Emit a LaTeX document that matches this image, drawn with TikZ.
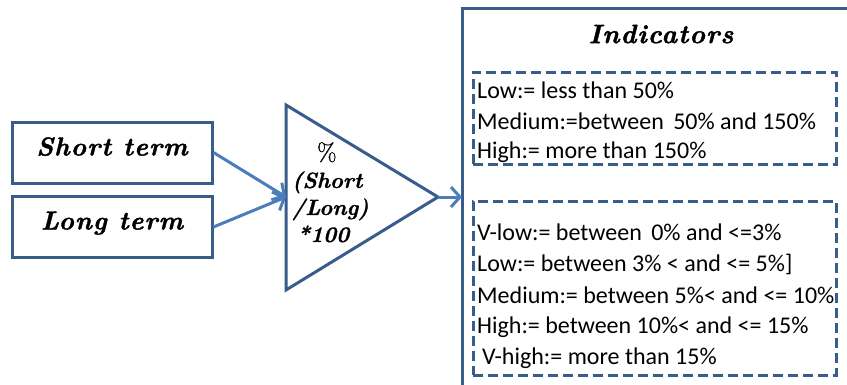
\documentclass[tikz,border=0pt]{standalone}
\usepackage{fontspec}
\setmainfont{Carlito}
\newfontfamily\headfont[LetterSpace=4,FakeBold=1.5]{Latin Modern Roman}
\newfontfamily\formulafont[FakeBold=1]{Latin Modern Roman}
\usetikzlibrary{arrows.meta}
\definecolor{frameblue}{RGB}{56,93,138}
\definecolor{arrowblue}{RGB}{74,126,187}
\tikzset{
  framed/.style={draw=frameblue, line width=3pt},
  termbox/.style={framed, rectangle, minimum width=200pt, minimum height=61pt,
    inner sep=0pt, font=\headfont\bfseries\itshape\fontsize{26}{30}\selectfont},
  dashbox/.style={draw=frameblue, line width=3pt, dash pattern=on 10pt off 5pt,
    rectangle, minimum width=363pt, inner sep=0pt},
  rangeline/.style={anchor=west, inner sep=0pt, font=\fontsize{24}{28}\selectfont},
  flow/.style={draw=arrowblue, line width=3pt, -{Straight Barb[length=9pt,width=20pt,line width=3pt]}},
}
\begin{document}
\begin{tikzpicture}[x=1pt,y=-1pt]
\useasboundingbox (0,0) rectangle (847,384);
\fill[white] (0,0) rectangle (847,384);

% input boxes (extra text depth lifts the labels a little above centre)
\node[termbox, text height=18pt, text depth=12pt] (short) at (112,152.5) {Short term};
\node[termbox, text height=18pt, text depth=13pt] (long)  at (112,227)   {Long term};

% ratio triangle
\coordinate (tritop) at (286,105);
\coordinate (tribot) at (286,290);
\coordinate (apex)   at (438,197);
\coordinate (triin)  at (286,197);
\draw[framed, line join=miter] (tritop) -- (apex) -- (tribot) -- cycle;
\node[anchor=north west, inner sep=0pt, align=left,
      font=\formulafont\fontsize{22}{27}\selectfont] (ratio) at (292,142)
  {\hspace*{25pt}{\fontsize{25}{27}\selectfont\%}\\ \bfseries\itshape(Short\\ \bfseries\itshape/Long)\\ \bfseries\itshape\hspace*{5pt}*100};

% indicators frame, running past the page edge
\coordinate (indleft) at (462,197);
\draw[framed] (462,420) -- (462,8) -- (880,8);
\node[font=\headfont\bfseries\itshape\fontsize{26.5}{30}\selectfont] (title) at (661,34) {Indicators};

% first group of ranges
\node[dashbox, minimum height=92pt] (groupA) at (654.5,118) {};
\node[rangeline] (a1) at (477,90)  {Low:= less than 50\%};
\node[rangeline] (a2) at (477,121) {Medium:=between\, 50\% and 150\%};
\node[rangeline] (a3) at (477,152) {High:= more than 150\%};

% second group of ranges
\node[dashbox, minimum height=174pt] (groupB) at (654.5,288) {};
\node[rangeline] (b1) at (477,232) {V-low:= between\, 0\% and <=3\%};
\node[rangeline] (b2) at (477,264) {Low:= between 3\% < and <= 5\%]};
\node[rangeline] (b3) at (477,295) {Medium:= between 5\%< and <= 10\%};
\node[rangeline] (b4) at (477,327) {High:= between 10\%< and <= 15\%};
\node[rangeline] (b5) at (482,358) {V-high:= more than 15\%};

% connectors
\draw[flow] (short.east) -- (triin);
\draw[flow] (long.east) -- (triin);
\draw[flow] (apex) -- (indleft);
\end{tikzpicture}
\end{document}
